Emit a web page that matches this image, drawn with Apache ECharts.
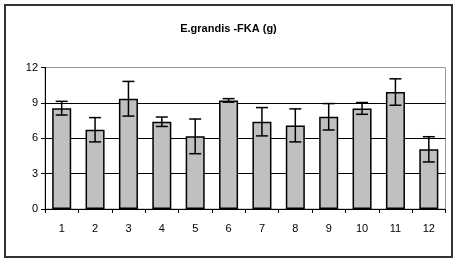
<!DOCTYPE html>
<html>
<head>
<meta charset="utf-8">
<script src="https://cdn.jsdelivr.net/npm/echarts@6/dist/echarts.min.js"></script>
<style>
  html, body { margin: 0; padding: 0; background: #fff; }
  #chart { width: 457px; height: 261px; }
</style>
</head>
<body>
<div id="chart"></div>
<script>
var categories = ['1', '2', '3', '4', '5', '6', '7', '8', '9', '10', '11', '12'];
var means = [8.55, 6.72, 9.35, 7.4, 6.16, 9.21, 7.4, 7.09, 7.82, 8.53, 9.92, 5.06];
var errors = [0.58, 1.03, 1.47, 0.4, 1.47, 0.15, 1.2, 1.4, 1.12, 0.5, 1.12, 1.07];
var yTicks = [0, 3, 6, 9, 12];

(function() {
  var chart = echarts.init(document.getElementById('chart'), null, { renderer: 'canvas' });

  var errData = means.map(function(m, i) { return [i, m - errors[i], m + errors[i]]; });

  chart.setOption({
    animation: false,
    title: {
      text: 'E.grandis -FKA (g)',
      left: 'center',
      top: 18,
      textStyle: { fontFamily: 'Liberation Sans, Arial', fontSize: 11, fontWeight: 'bold', color: '#000' }
    },
    graphic: [{
      type: 'rect',
      shape: { x: 5, y: 5, width: 447, height: 252 },
      style: { fill: 'none', stroke: '#333', lineWidth: 2 },
      z: 100
    }, {
      type: 'rect',
      shape: { x: 45, y: 67.5, width: 400.5, height: 141.5 },
      style: { fill: 'none', stroke: '#999', lineWidth: 1 },
      z: -1
    }],
    grid: { left: 45, right: 11.5, top: 67.5, bottom: 52 },
    xAxis: {
      type: 'category',
      data: categories,
      boundaryGap: true,
      axisLine: { lineStyle: { color: '#000', width: 1 } },
      axisTick: { show: true, length: 4, inside: false, lineStyle: { color: '#000' } },
      axisLabel: { color: '#000', fontFamily: 'Liberation Sans, Arial', fontSize: 11, margin: 14 },
      splitLine: { show: false }
    },
    yAxis: {
      type: 'value',
      min: yTicks[0],
      max: yTicks[yTicks.length - 1],
      interval: 3,
      axisLine: { show: true, lineStyle: { color: '#000', width: 1 } },
      axisTick: { show: true, length: 4, lineStyle: { color: '#000' } },
      axisLabel: { color: '#000', fontFamily: 'Liberation Sans, Arial', fontSize: 11, margin: 7 },
      splitLine: { show: true, showMaxLine: false, lineStyle: { color: '#000', width: 1 } }
    },
    series: [{
      type: 'bar',
      data: means,
      barWidth: '57%',
      itemStyle: { color: '#c0c0c0', borderColor: '#000', borderWidth: 1.5 }
    }, {
      type: 'custom',
      data: errData,
      z: 10,
      renderItem: function(params, api) {
        var x = api.value(0);
        var lo = api.coord([x, api.value(1)]);
        var hi = api.coord([x, api.value(2)]);
        var hw = 6;
        var st = { stroke: '#000', lineWidth: 1.5 };
        return {
          type: 'group',
          children: [
            { type: 'line', shape: { x1: lo[0], y1: lo[1], x2: hi[0], y2: hi[1] }, style: st },
            { type: 'line', shape: { x1: lo[0] - hw, y1: lo[1], x2: lo[0] + hw, y2: lo[1] }, style: st },
            { type: 'line', shape: { x1: hi[0] - hw, y1: hi[1], x2: hi[0] + hw, y2: hi[1] }, style: st }
          ]
        };
      }
    }]
  });
  window.addEventListener('resize', function() { chart.resize(); });
})();
</script>
</body>
</html>
